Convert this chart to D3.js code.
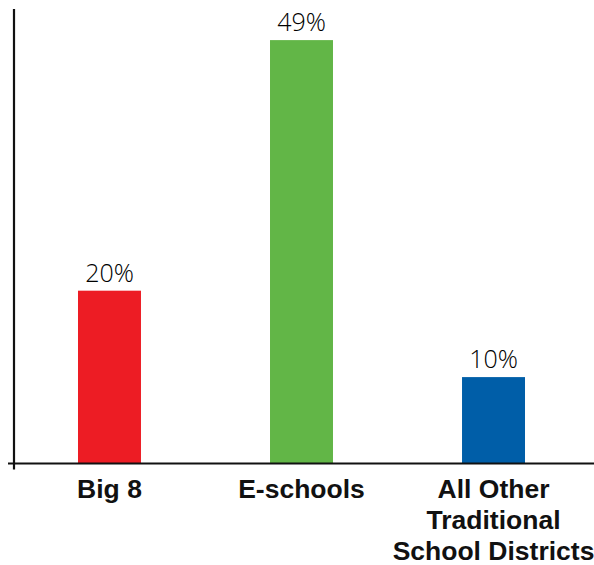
<!DOCTYPE html>
<html><head><meta charset="utf-8">
<script src="https://cdn.jsdelivr.net/npm/d3@7"></script>
<style>body{margin:0;background:#fff}</style>
</head><body>
<svg id="c" width="594" height="565"></svg>
<script>
const categories = ["Big 8", "E-schools", "All Other Traditional School Districts"];
const categoryLines = [["Big 8"], ["E-schools"], ["All Other", "Traditional", "School Districts"]];
const values = [20, 49, 10];
const valueLabels = ["20%", "49%", "10%"];
const colors = ["#ED1C24", "#62B647", "#005EA8"];

const svg = d3.select("#c");
const x = d3.scaleBand().domain(categories).range([13, 590]).paddingInner(0.672).paddingOuter(0.3385);
const y = d3.scaleLinear().domain([0, 52.6]).range([463.5, 9]);

svg.selectAll("rect.bar").data(values).join("rect")
  .attr("class", "bar")
  .attr("x", (d, i) => x(categories[i]))
  .attr("width", x.bandwidth())
  .attr("y", d => y(d))
  .attr("height", d => y(0) - y(d))
  .attr("fill", (d, i) => colors[i]);

svg.selectAll("text.val").data(values).join("text")
  .attr("class", "val")
  .attr("x", (d, i) => x(categories[i]) + x.bandwidth() / 2)
  .attr("y", d => y(d) - 9)
  .attr("text-anchor", "middle")
  .attr("font-family", "'Open Sans', Roboto, sans-serif")
  .attr("font-weight", 300)
  .attr("font-size", 25)
  .attr("fill", "#000")
  .text((d, i) => valueLabels[i]);

// axes
svg.append("line").attr("x1", 14).attr("x2", 14).attr("y1", y.range()[1]).attr("y2", y(0) + 6)
  .attr("stroke", "#111").attr("stroke-width", 2.2);
svg.append("line").attr("x1", 8).attr("x2", 594).attr("y1", y(0)).attr("y2", y(0))
  .attr("stroke", "#111").attr("stroke-width", 2.2);

const lab = svg.selectAll("text.cat").data(categories).join("text")
  .attr("class", "cat")
  .attr("x", d => x(d) + x.bandwidth() / 2)
  .attr("y", 498)
  .attr("text-anchor", "middle")
  .attr("font-family", "'Liberation Sans', Arial, sans-serif")
  .attr("font-weight", "bold")
  .attr("font-size", 26.5)
  .attr("fill", "#111");
lab.each(function(d, i) {
  d3.select(this).selectAll("tspan").data(categoryLines[i]).join("tspan")
    .attr("x", x(d) + x.bandwidth() / 2)
    .attr("dy", (t, j) => j === 0 ? 0 : 31)
    .text(t => t);
});
</script>
</body></html>
